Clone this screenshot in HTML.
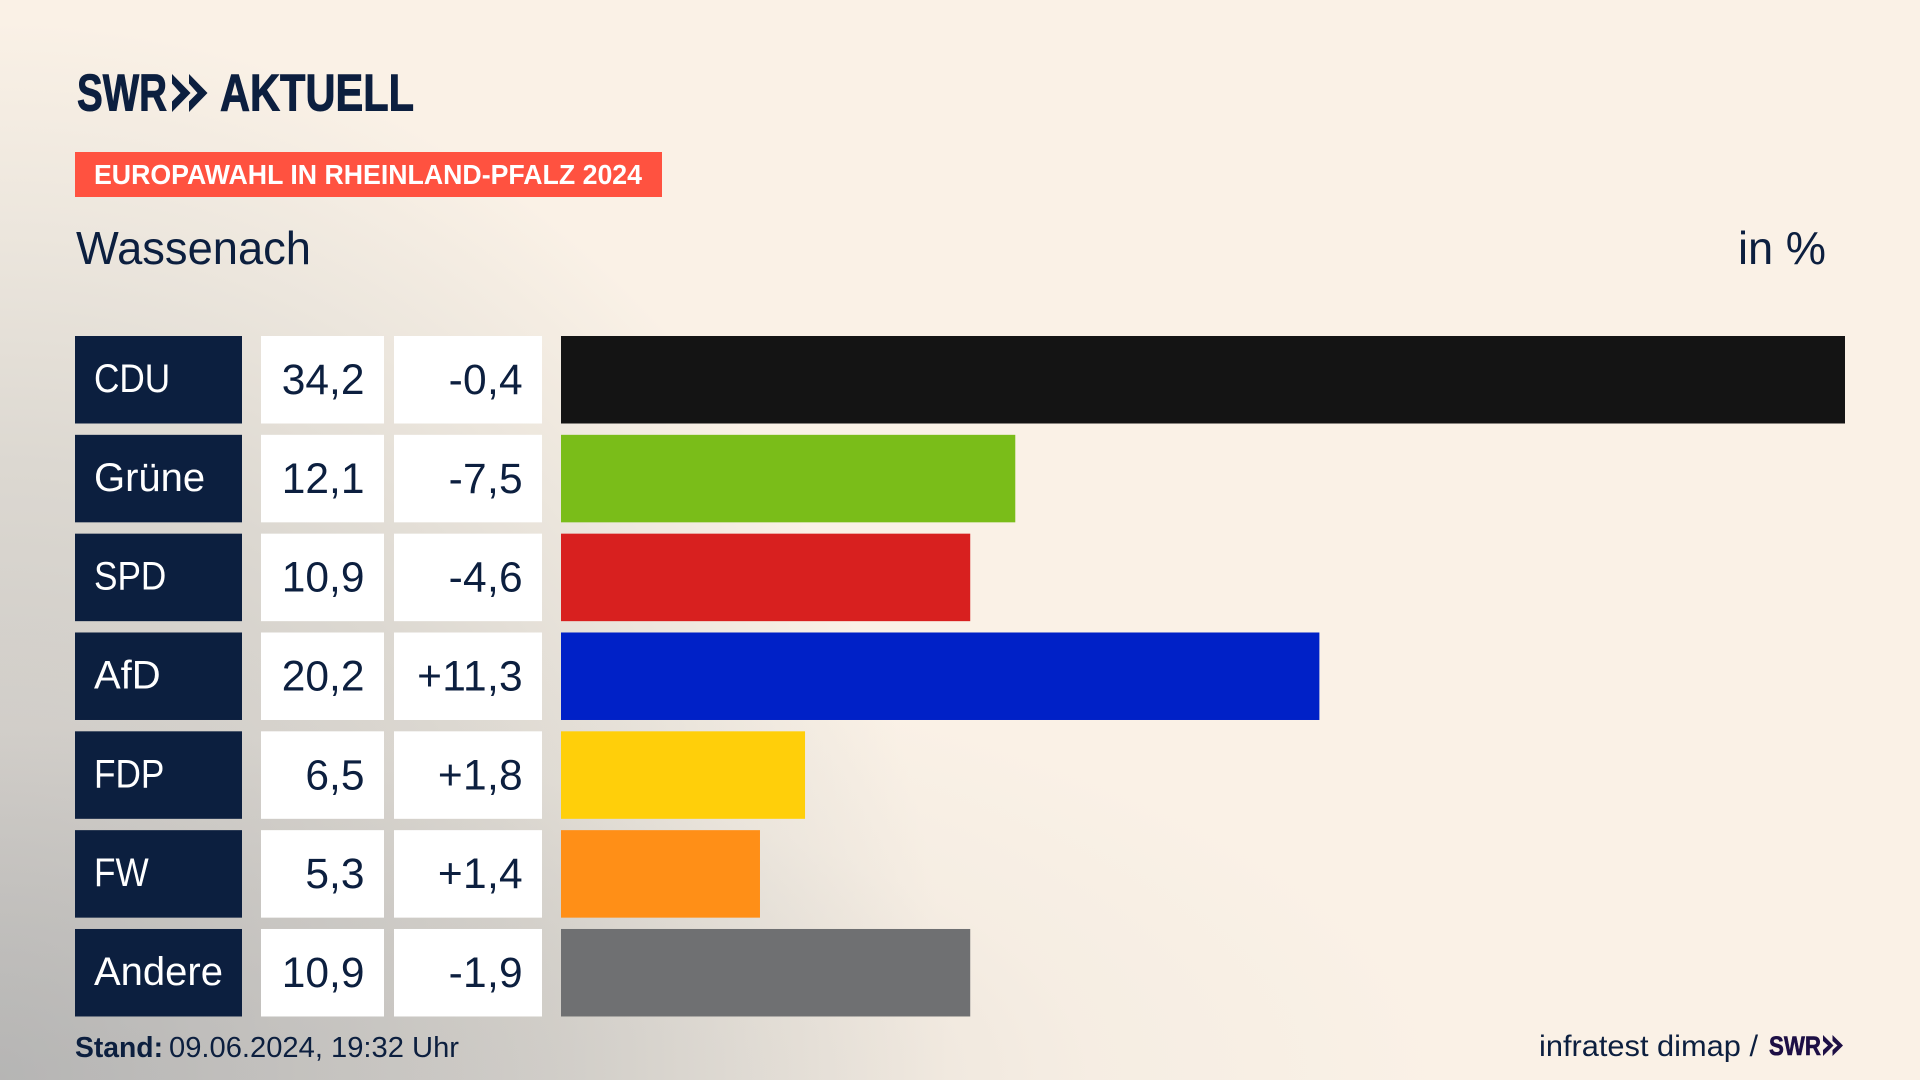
<!DOCTYPE html>
<html lang="de">
<head>
<meta charset="utf-8">
<title>Europawahl in Rheinland-Pfalz 2024 – Wassenach</title>
<style>
html,body{margin:0;padding:0;width:1920px;height:1080px;overflow:hidden;background:#faf1e6}
#stage{position:absolute;left:0;top:0;width:1920px;height:1080px;
background:
radial-gradient(ellipse 1450px 470px at 0px 1080px, rgba(175,175,175,.5) 0%, rgba(190,188,185,.32) 45%, rgba(220,215,208,.15) 75%, rgba(250,241,230,0) 100%),
radial-gradient(ellipse 950px 1060px at 0px 1080px, #bcbbb9 0%, #cdcac6 28%, #dcd8d1 58%, #ece6dd 80%, #faf1e6 100%),
#faf1e6}
svg{position:absolute;left:0;top:0;font-family:"Liberation Sans",sans-serif}
</style>
</head>
<body>
<div id="stage">
<svg id="chart" width="1920" height="1080" viewBox="0 0 1920 1080" xmlns="http://www.w3.org/2000/svg">
  <g fill="#0c1f3f">
    <text x="77" y="110.5" font-size="52" font-weight="700" textLength="90" lengthAdjust="spacingAndGlyphs" stroke="#0c1f3f" stroke-width="1">SWR</text>
    <polygon points="172,74 190.5,93 172,112 172,101.5 180.5,93 172,83.5"/>
    <polygon points="189,74 207.5,93 189,112 189,101.5 197.5,93 189,83.5"/>
    <text x="220" y="110.5" font-size="52" font-weight="700" textLength="194" lengthAdjust="spacingAndGlyphs" stroke="#0c1f3f" stroke-width="1">AKTUELL</text>
  </g>
  <rect x="75" y="152" width="587" height="45" fill="#ff5240"/>
  <text x="94" y="184" font-size="28" font-weight="700" fill="#ffffff" textLength="548" lengthAdjust="spacingAndGlyphs">EUROPAWAHL IN RHEINLAND-PFALZ 2024</text>
  <text x="76" y="264" font-size="46" fill="#0c1f3f" textLength="235" lengthAdjust="spacingAndGlyphs">Wassenach</text>
  <text x="1738" y="264" font-size="46" fill="#0c1f3f" textLength="88" lengthAdjust="spacingAndGlyphs">in %</text>
  <g id="rows"></g>
  <text x="75" y="1057" font-size="29" font-weight="700" fill="#0c1f3f" textLength="88" lengthAdjust="spacingAndGlyphs">Stand:</text>
  <text x="169" y="1057" font-size="29" fill="#0c1f3f" textLength="290" lengthAdjust="spacingAndGlyphs">09.06.2024, 19:32 Uhr</text>
  <text x="1539" y="1056" font-size="29.5" fill="#0c1f3f" textLength="219" lengthAdjust="spacingAndGlyphs">infratest dimap /</text>
  <g fill="#1d0f45">
    <text x="1769" y="1055" font-size="27" font-weight="700" textLength="52" lengthAdjust="spacingAndGlyphs" stroke="#1d0f45" stroke-width=".6">SWR</text>
    <polygon points="1823,1035 1833.5,1045.5 1823,1056 1823,1050 1828,1045.5 1823,1041"/>
    <polygon points="1832.5,1035 1843,1045.5 1832.5,1056 1832.5,1050 1837.5,1045.5 1832.5,1041"/>
  </g>
</svg>
</div>
<script>
const parties = ["CDU", "Grüne", "SPD", "AfD", "FDP", "FW", "Andere"];
const shares = [34.2, 12.1, 10.9, 20.2, 6.5, 5.3, 10.9];
const changes = [-0.4, -7.5, -4.6, 11.3, 1.8, 1.4, -1.9];
const barColors = ["#141414", "#7abd19", "#d8201f", "#0021c7", "#ffcf0a", "#ff8f17", "#6f7072"];

const SVG_NS = "http://www.w3.org/2000/svg";
const rowsGroup = document.getElementById("rows");
const NAVY = "#0c1f3f";
const BAR_LEFT = 561;
const PX_PER_POINT = 1284 / 34.2;
const ROW_TOP = 336;
const ROW_PITCH = 98.83;
const ROW_HEIGHT = 87.5;

function xScale(v) { return v * PX_PER_POINT; }
function yScale(i) { return ROW_TOP + i * ROW_PITCH; }
function fmt(v) { return v.toFixed(1).replace(".", ","); }
function fmtChange(v) { return (v > 0 ? "+" : "") + fmt(v); }

function make(tag, attrs, parent) {
  const n = document.createElementNS(SVG_NS, tag);
  for (const k in attrs) n.setAttribute(k, attrs[k]);
  parent.appendChild(n);
  return n;
}

parties.forEach(function (party, i) {
  const y = yScale(i);
  const key = party.toLowerCase().replace("ü", "ue");

  const row = make("g", {}, rowsGroup);
  
  

  const box = make("rect", { x: 75, y: y, width: 167, height: ROW_HEIGHT, fill: NAVY }, row);
  
  

  const label = make("text", { x: 94, y: y + 56, "font-size": 40, fill: "#ffffff" }, row);
  label.textContent = party;
  
  
  if (/^[A-Z]+$/.test(party)) {
    label.setAttribute('transform', 'translate(94 0) scale(.88 1) translate(-94 0)');
  }

  const shareBox = make("rect", { x: 261, y: y, width: 123, height: ROW_HEIGHT, fill: "#ffffff" }, row);
  
  

  const share = make("text", { x: 364.5, y: y + 58, "font-size": 42.5, fill: NAVY, "text-anchor": "end" }, row);
  share.textContent = fmt(shares[i]);
  
  

  const changeBox = make("rect", { x: 394, y: y, width: 148, height: ROW_HEIGHT, fill: "#ffffff" }, row);
  
  

  const change = make("text", { x: 523, y: y + 58, "font-size": 42.5, fill: NAVY, "text-anchor": "end", "letter-spacing": 0.3 }, row);
  change.textContent = fmtChange(changes[i]);
  
  

  const bar = make("rect", { x: BAR_LEFT, y: y, width: xScale(shares[i]), height: ROW_HEIGHT, fill: barColors[i] }, row);
  
  
});
</script>
</body>
</html>
